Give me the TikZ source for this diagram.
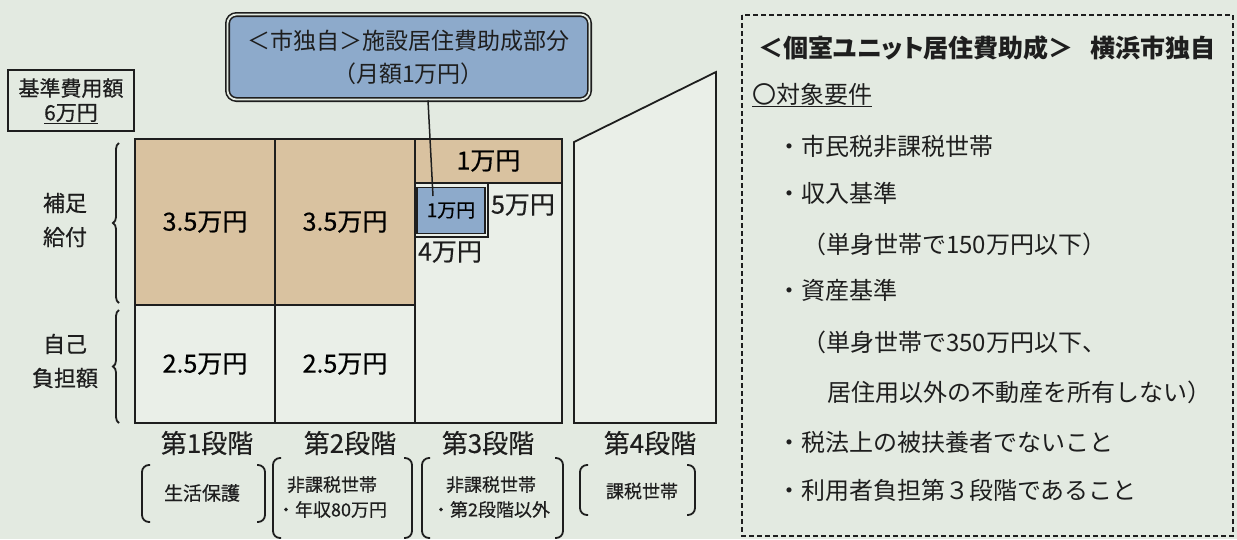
\documentclass[tikz,border=0pt]{standalone}
\usepackage{fontspec}
\setmainfont{Noto Sans CJK JP}
\newfontfamily\titlefont[RawFeature={+palt}]{Noto Sans CJK JP}
\newfontfamily\medfont[FakeBold=0.5]{Noto Sans CJK JP}
\usetikzlibrary{decorations.pathreplacing,calc}
\definecolor{bgc}{HTML}{E3EAE1}
\definecolor{cellc}{HTML}{EAEFE8}
\definecolor{tanc}{HTML}{D9C2A0}
\definecolor{bluec}{HTML}{8DAACB}
\definecolor{lc}{HTML}{1E1E1E}
\begin{document}
\begin{tikzpicture}[x=1pt,y=-1pt,
  ln/.style={draw=lc,line width=1.8pt},
  cell/.style={ln,fill=cellc,inner sep=0pt,font=\medfont\fontsize{25}{29}\selectfont},
  lbl/.style={inner sep=0pt,text=lc,font=\medfont\fontsize{25}{29}\selectfont},
  side/.style={inner sep=0pt,text=lc,align=center,font=\medfont\fontsize{22}{34}\selectfont},
  grp/.style={inner sep=0pt,text=lc,align=center,font=\medfont\fontsize{18}{25}\selectfont},
  brk/.style={draw=lc,line width=1.8pt,rounded corners=7pt},
  rt/.style={anchor=west,inner sep=0pt,text=lc,font=\fontsize{24}{28}\selectfont},
  brc/.style={draw=lc,line width=1.8pt,decorate,decoration={brace,amplitude=6pt}}
]
\useasboundingbox (0,0) rectangle (1237,539);
\fill[bgc] (0,0) rectangle (1237,539);

% base amount box
\node[draw=lc,line width=1.8pt,fill=bgc,minimum width=126pt,minimum height=61pt,inner sep=0pt] (base) at (71,100.5) {};
\node[lbl,font=\medfont\fontsize{21}{25}\selectfont] (basetxt) at (71,88) {基準費用額};
\node[lbl,font=\medfont\fontsize{21}{25}\selectfont] (baseamt) at (71,114) {\underline{6万円}};

% braces and side labels
\draw[brc] (119,303) -- (119,143);
\draw[brc] (119,423) -- (119,310);
\node[side] (hosoku) at (65,220) {補足\\給付};
\node[side] (jiko) at (65,361) {自己\\負担額};

% columns 1 and 2
\node[cell,fill=tanc,minimum width=140pt,minimum height=166pt] (c1t) at (205,222) {3.5万円};
\node[cell,minimum width=140pt,minimum height=118pt] (c1b) at (205,364) {2.5万円};
\node[cell,fill=tanc,minimum width=140pt,minimum height=166pt] (c2t) at (345,222) {3.5万円};
\node[cell,minimum width=140pt,minimum height=118pt] (c2b) at (345,364) {2.5万円};

% column 3
\node[cell,minimum width=147pt,minimum height=284pt] (c3) at (488.5,281) {};
\node[cell,fill=tanc,minimum width=147pt,minimum height=44pt] (c3t) at (488.5,161) {1万円};
\draw[ln] (415,237) -- (488,237) -- (488,183);
\node[cell,fill=bluec,line width=1.4pt,minimum width=68pt,minimum height=46pt,font=\medfont\fontsize{19}{23}\selectfont] (bluebox) at (451,210.5) {1万円};
\node[lbl] (five) at (523,205) {5万円};
\node[lbl] (four) at (450,252) {4万円};

% column 4
\draw[ln,fill=cellc] (574,142) -- (716,72) -- (716,423) -- (574,423) -- cycle;

% callout
\node[draw=lc,line width=1.6pt,double=bgc,double distance=1.8pt,fill=bluec,rounded corners=9pt,
  minimum width=362pt,minimum height=85pt,align=center,text=lc,
  font=\fontsize{23}{33}\selectfont] (callout) at (408.5,57) {＜市独自＞施設居住費助成部分\\（月額1万円）};
\coordinate (ptrend) at (433,196);
\draw[ln,line width=1.5pt] ($(callout.south)+(19.5,0)$) -- (ptrend);

% stage labels
\node[lbl,font=\medfont\fontsize{26}{30}\selectfont] (s1) at (207,443) {第1段階};
\node[lbl,font=\medfont\fontsize{26}{30}\selectfont] (s2) at (350,443) {第2段階};
\node[lbl,font=\medfont\fontsize{26}{30}\selectfont] (s3) at (488,443) {第3段階};
\node[lbl,font=\medfont\fontsize{26}{30}\selectfont] (s4) at (650,443) {第4段階};

% groups with brackets
\draw[brk] (150,465) -- (142,465) -- (142,522) -- (150,522);
\draw[brk] (257,465) -- (265,465) -- (265,522) -- (257,522);
\node[grp,font=\medfont\fontsize{19}{25}\selectfont] (g1) at (202,493) {生活保護};

\draw[brk] (281,458) -- (273,458) -- (273,538) -- (281,538);
\draw[brk] (404,458) -- (412,458) -- (412,538) -- (404,538);
\node[grp] (g2) at (332,497) {非課税世帯\\・年収80万円};

\draw[brk] (430,458) -- (422,458) -- (422,538) -- (430,538);
\draw[brk] (555,458) -- (563,458) -- (563,538) -- (555,538);
\node[grp] (g3) at (491,497) {非課税世帯\\・第2段階以外};

\draw[brk] (588,465) -- (580,465) -- (580,515) -- (588,515);
\draw[brk] (687,465) -- (695,465) -- (695,515) -- (687,515);
\node[grp] (g4) at (642,491) {課税世帯};

% right panel
\draw[draw=lc,line width=1.2pt,dash pattern=on 5pt off 3pt] (742,15) rectangle (1233,536);
\node[rt,font=\titlefont\bfseries\fontsize{25}{29}\selectfont,text width=457pt,align=left] (title) at (758,48) {＜個室ユニット居住費助成＞\hfill 横浜市独自};
\node[rt] (r1) at (752,95) {\underline{〇対象要件}};
\node[rt] (r2) at (777,146) {・市民税非課税世帯};
\node[rt] (r3) at (777,193) {・収入基準};
\node[rt] (r4) at (802,244) {（単身世帯で150万円以下）};
\node[rt] (r5) at (777,290) {・資産基準};
\node[rt] (r6) at (802,342) {（単身世帯で350万円以下、};
\node[rt] (r7) at (827,392) {居住用以外の不動産を所有しない）};
\node[rt] (r8) at (777,442) {・税法上の被扶養者でないこと};
\node[rt] (r9) at (777,490) {・利用者負担第３段階であること};
\end{tikzpicture}
\end{document}
